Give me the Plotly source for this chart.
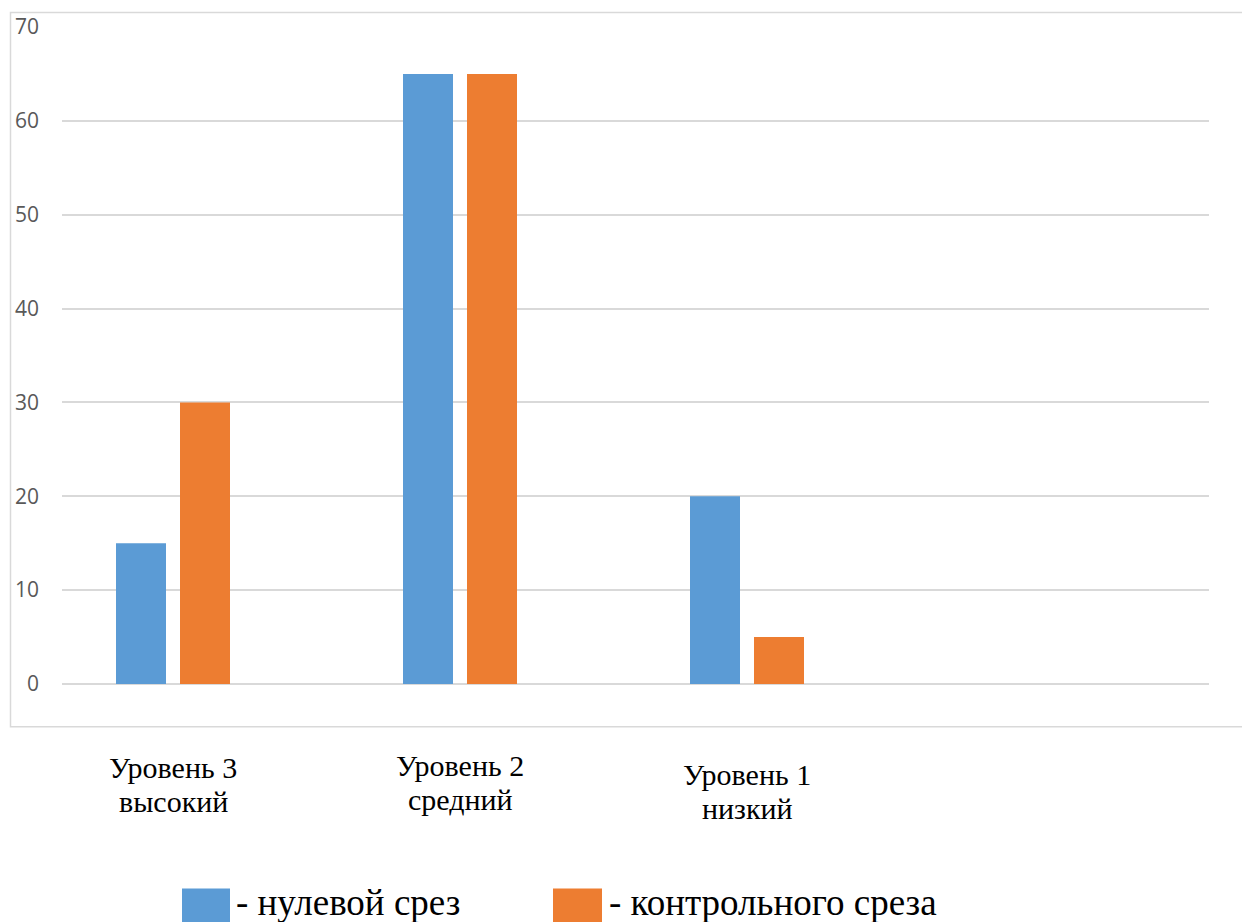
import plotly.graph_objects as go

# ---- data ----
categories = ["Уровень 3\nвысокий", "Уровень 2\nсредний", "Уровень 1\nнизкий"]
series_names = ["- нулевой срез", "- контрольного среза"]
zero_cut = [15, 65, 20]
control_cut = [30, 65, 5]
y_ticks = [0, 10, 20, 30, 40, 50, 60, 70]

colors = ["#5B9BD5", "#ED7D31"]

W, H = 1242, 922
L, R, T, B = 62, 1209, 25, 684  # plot area in pixels


def px_x(p):
    return (p - L) / (R - L)


def px_y(p):
    return (B - p) / (B - T)


xs = list(range(len(categories)))

fig = go.Figure()
for name, vals, col in zip(series_names, [zero_cut, control_cut], colors):
    fig.add_trace(go.Bar(x=xs, y=vals, name=name, marker=dict(color=col, line=dict(width=0)),
                         showlegend=False, hoverinfo="skip"))

# category labels (each line placed separately)
label_mid_y = [(768, 802), (766, 800), (775, 809)]
for i, (cat, ys) in enumerate(zip(categories, label_mid_y)):
    for line, py in zip(cat.split("\n"), ys):
        fig.add_annotation(x=xs[i], xref="x", y=px_y(py), yref="paper", text=line,
                           showarrow=False, xanchor="center", yanchor="middle",
                           font=dict(family="Liberation Serif", size=30, color="#000000"))

shapes = []
# outer chart frame
shapes.append(dict(type="rect", xref="paper", yref="paper",
                   x0=px_x(10.5), x1=px_x(1260), y0=px_y(10.5), y1=px_y(727),
                   line=dict(color="#D9D9D9", width=1.5), fillcolor="rgba(0,0,0,0)", layer="below"))

# custom legend
legend_sq = [(182, 230), (553, 602)]
legend_txt_x = [234, 607]
for name, col, (sx0, sx1), tx in zip(series_names, colors, legend_sq, legend_txt_x):
    shapes.append(dict(type="rect", xref="paper", yref="paper",
                       x0=px_x(sx0), x1=px_x(sx1), y0=px_y(889), y1=px_y(923),
                       line=dict(width=0), fillcolor=col))
    fig.add_annotation(x=px_x(tx), xref="paper", y=px_y(903), yref="paper", text=name,
                       showarrow=False, xanchor="left", yanchor="middle",
                       font=dict(family="Liberation Serif", size=37, color="#000000"))

cat_w = 287.0
r0 = -(173 - L) / cat_w
r1 = r0 + (R - L) / cat_w

fig.update_layout(
    width=W, height=H,
    margin=dict(l=L, r=W - R, t=T, b=H - B, pad=0),
    paper_bgcolor="white", plot_bgcolor="white",
    barmode="group", bargap=0.554, bargroupgap=0.21875,
    shapes=shapes,
    xaxis=dict(range=[r0, r1], showticklabels=False, showgrid=False, zeroline=False,
               showline=False, ticks=""),
    yaxis=dict(range=[0, 70], tickvals=y_ticks, showgrid=True, gridcolor="#D9D9D9", gridwidth=1.5,
               zeroline=True, zerolinecolor="#D9D9D9", zerolinewidth=1.5, showline=False,
               ticks="", ticklabelstandoff=22,
               tickfont=dict(family="Open Sans", size=21, color="#595959")),
)

fig.write_html("out.html", config={"displayModeBar": False},
               post_script="document.body.style.margin='0';document.body.style.overflow='hidden';")
